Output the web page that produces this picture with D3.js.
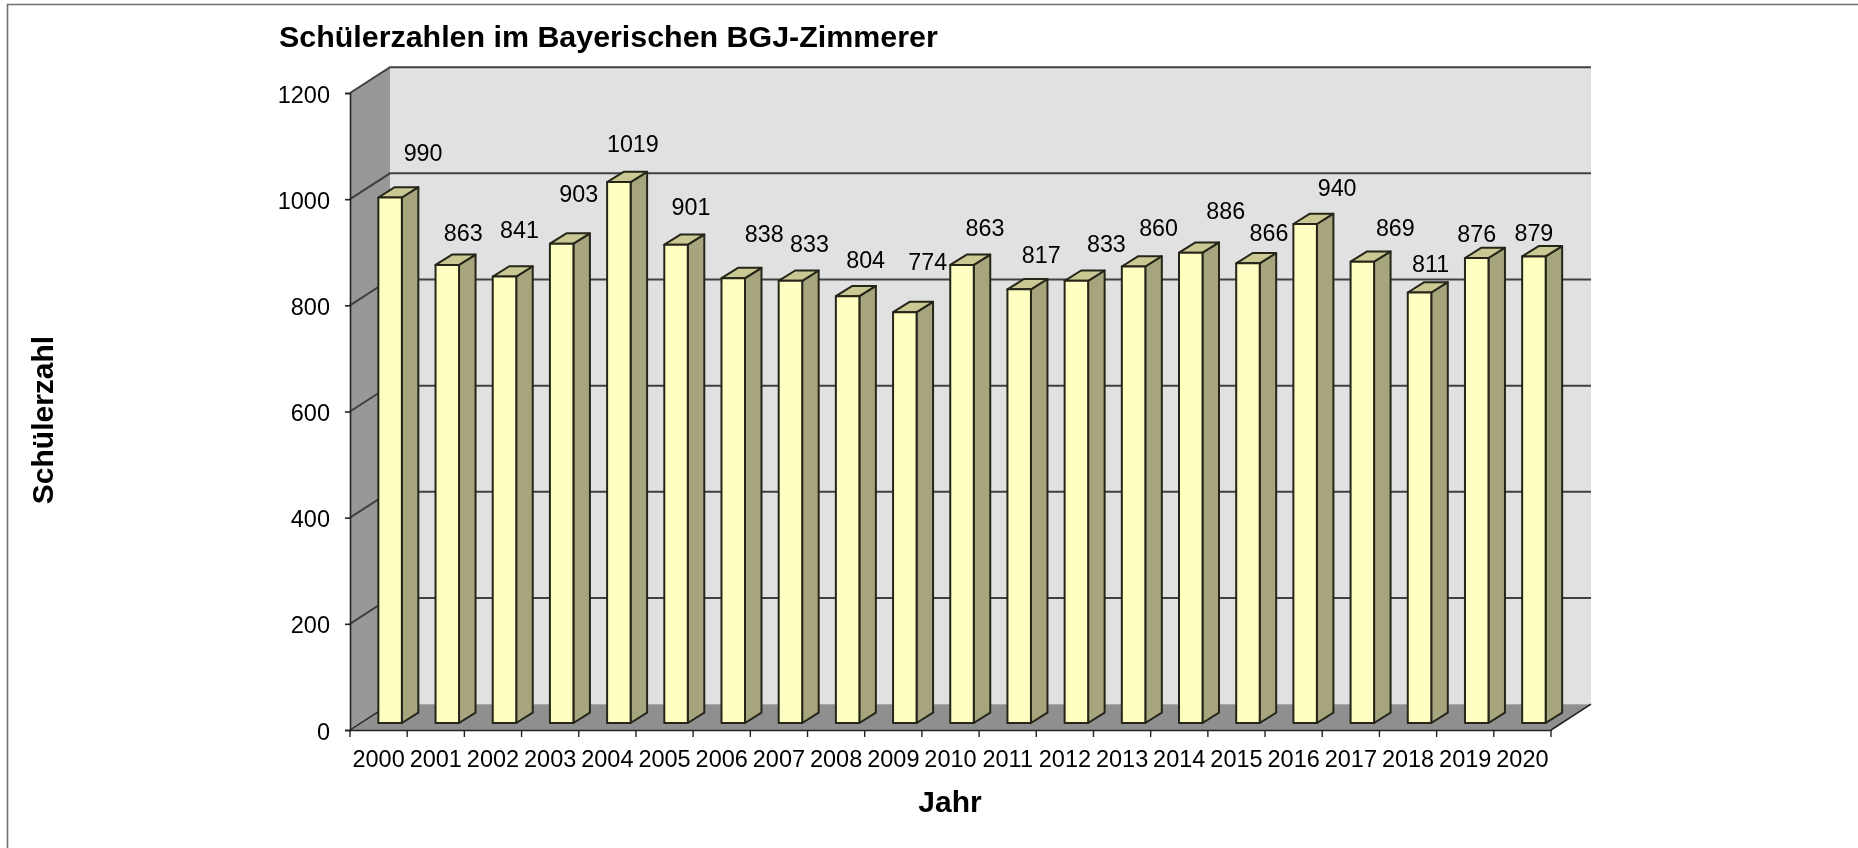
<!DOCTYPE html>
<html>
<head>
<meta charset="utf-8">
<script src="https://cdn.jsdelivr.net/npm/d3@7"></script>
<style>
  html, body { margin: 0; padding: 0; background: #fff; }
  /* the original is a soft scan-like image */
  svg { display: block; filter: blur(0.35px); }
  text { font-family: "Liberation Sans", Arial, sans-serif; fill: #000; }
</style>
</head>
<body>
<svg id="chart" width="1858" height="848"></svg>
<script>
const years = ['2000','2001','2002','2003','2004','2005','2006','2007','2008','2009','2010',
    '2011','2012','2013','2014','2015','2016','2017','2018','2019','2020'];
const pupils = [990,863,841,903,1019,901,838,833,804,774,863,817,833,860,886,866,940,869,811,876,879];
const yTicks = [0,200,400,600,800,1000,1200];

// hand placed data labels in the original, offset from the bar's front top centre
const labelDx = [33,16,15,17,14,15,31,19,18,23,23,22,30,25,35,21,32,33,11,0,0];
const labelDy = [-44,-32,-47,-50,-38,-38,-44,-37,-36,-50,-37,-34,-37,-38,-42,-30,-36,-34,-28,-24,-23];

const svg = d3.select('#chart');

const x = d3.scaleBand().domain(years).range([350, 1551]);
const y = d3.scaleLinear().domain([0, 1200]).range([730, 93]);

// fake 3d: full depth of the box, and where a bar sits inside it
const depth = { x: 40, y: -25.8 };
const barFront = { x: 11.5, y: -7 };
const barDepth = { x: 16.5, y: -10.3 };
const barWidth = 23.5;

const poly = pts => 'M' + pts.map(p => p.join(',')).join('L') + 'Z';

// -----------------------------------------------------------------
// Frame
// -----------------------------------------------------------------
svg.append('path')
    .attr('d', 'M7.5,848V4.5H1858')
    .attr('fill', 'none')
    .attr('stroke', '#707070')
    .attr('stroke-width', 1.6);

// -----------------------------------------------------------------
// Walls
// -----------------------------------------------------------------
const x0 = x.range()[0], x1 = x.range()[1];
const yBottom = y(0), yTop = y(1200);

svg.append('path')
    .attr('d', poly([[x0 + depth.x, yTop + depth.y], [x1 + depth.x, yTop + depth.y],
        [x1 + depth.x, yBottom + depth.y], [x0 + depth.x, yBottom + depth.y]]))
    .attr('fill', '#e1e1e1');
svg.append('path')
    .attr('d', poly([[x0, yTop], [x0 + depth.x, yTop + depth.y],
        [x0 + depth.x, yBottom + depth.y], [x0, yBottom]]))
    .attr('fill', '#989898');
svg.append('path')
    .attr('d', poly([[x0, yBottom], [x1, yBottom],
        [x1 + depth.x, yBottom + depth.y], [x0 + depth.x, yBottom + depth.y]]))
    .attr('fill', '#8f8f8f');

// Gridlines
svg.append('g').selectAll('path')
    .data(yTicks.filter(d => d > 0))
    .join('path')
    .attr('d', d => `M${x0},${y(d)}L${x0 + depth.x},${y(d) + depth.y}H${x1 + depth.x}`)
    .attr('fill', 'none')
    .attr('stroke', '#404040')
    .attr('stroke-width', 2);

// Floor edges
svg.append('path')
    .attr('d', `M${x0},${yBottom}L${x0 + depth.x},${yBottom + depth.y}`)
    .attr('stroke', '#222')
    .attr('stroke-width', 1.4);
svg.append('path')
    .attr('d', `M${x1},${yBottom}L${x1 + depth.x},${yBottom + depth.y}`)
    .attr('stroke', '#222')
    .attr('stroke-width', 1.6);

// -----------------------------------------------------------------
// Bars
// -----------------------------------------------------------------
const barX = d => x(d) + x.bandwidth() / 2 + barFront.x - barWidth / 2;
const barY = v => y(v) + barFront.y;
const bars = svg.append('g')
    .selectAll('g')
    .data(years.map((year, i) => ({ year, value: pupils[i], dx: labelDx[i], dy: labelDy[i] })))
    .join('g')
    .attr('stroke', '#25251a')
    .attr('stroke-width', 2)
    .attr('stroke-linejoin', 'round');

// side
bars.append('path')
    .attr('fill', '#a7a57d')
    .attr('d', d => {
        const r = barX(d.year) + barWidth, t = barY(d.value), b = barY(0);
        return poly([[r, t], [r + barDepth.x, t + barDepth.y], [r + barDepth.x, b + barDepth.y], [r, b]]);
    });
// top
bars.append('path')
    .attr('fill', '#cbc993')
    .attr('d', d => {
        const l = barX(d.year), t = barY(d.value);
        return poly([[l, t], [l + barDepth.x, t + barDepth.y],
            [l + barWidth + barDepth.x, t + barDepth.y], [l + barWidth, t]]);
    });
// front
bars.append('rect')
    .attr('fill', '#ffffc2')
    .attr('x', d => barX(d.year))
    .attr('y', d => barY(d.value))
    .attr('width', barWidth)
    .attr('height', d => barY(0) - barY(d.value));

// -----------------------------------------------------------------
// Axes
// -----------------------------------------------------------------
const yAxis = svg.append('g')
    .attr('transform', `translate(${x0},0)`)
    .call(d3.axisLeft(y).tickValues(yTicks).tickFormat(d3.format('d')).tickSize(5).tickPadding(15));
const xAxis = svg.append('g')
    .attr('transform', `translate(0,${yBottom})`)
    .call(d3.axisBottom(x).tickSize(0).tickPadding(20));

[yAxis, xAxis].forEach(a => {
    a.attr('font-size', null).attr('font-family', null);
    a.selectAll('text').attr('font-size', 23.5);
    a.selectAll('line, path').attr('stroke', '#222').attr('stroke-width', 1.6);
});
yAxis.selectAll('text').attr('transform', 'translate(0,1.5)');

// x ticks sit on the category boundaries
svg.append('g').selectAll('line')
    .data(years.concat('end'))
    .join('line')
    .attr('x1', (d, i) => x0 + i * x.step())
    .attr('x2', (d, i) => x0 + i * x.step())
    .attr('y1', yBottom)
    .attr('y2', yBottom + 7)
    .attr('stroke', '#222')
    .attr('stroke-width', 1.4);

// -----------------------------------------------------------------
// Data labels
// -----------------------------------------------------------------
bars.append('text')
    .attr('stroke', 'none')
    .attr('font-size', 23.3)
    .attr('text-anchor', 'middle')
    .attr('dominant-baseline', 'central')
    .attr('x', d => barX(d.year) + barWidth / 2 + d.dx)
    .attr('y', d => barY(d.value) + d.dy)
    .text(d => d.value);

// -----------------------------------------------------------------
// Titles
// -----------------------------------------------------------------
svg.append('text')
    .attr('x', 279).attr('y', 47)
    .attr('font-size', 30.4)
    .attr('font-weight', 'bold')
    .text('Schülerzahlen im Bayerischen BGJ-Zimmerer');
svg.append('text')
    .attr('x', 950).attr('y', 812)
    .attr('text-anchor', 'middle')
    .attr('font-size', 30)
    .attr('font-weight', 'bold')
    .text('Jahr');
svg.append('text')
    .attr('transform', 'translate(53,420) rotate(-90)')
    .attr('text-anchor', 'middle')
    .attr('font-size', 30)
    .attr('font-weight', 'bold')
    .text('Schülerzahl');
</script>
</body>
</html>
